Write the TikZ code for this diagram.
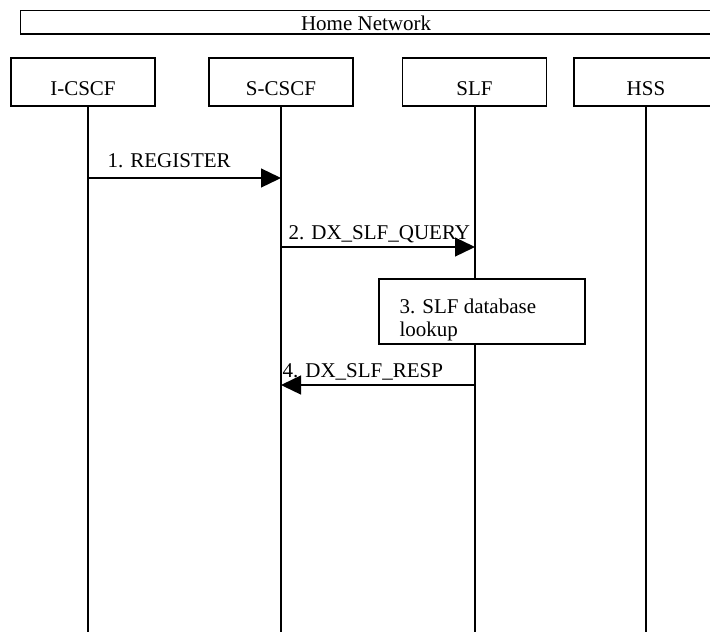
\documentclass[tikz,border=0pt]{standalone}
\usepackage{fontspec}
\setmainfont{Liberation Serif}
\usetikzlibrary{arrows.meta}
\begin{document}
\begin{tikzpicture}[x=1pt,y=-1pt,
  line width=1.3pt,
  every node/.style={font=\fontsize{21}{23}\selectfont, inner sep=0pt},
  ent/.style={draw, fill=white, minimum width=144pt, minimum height=48pt, text height=27pt, text depth=0pt},
  msg/.style={-{Triangle[length=20pt,width=19pt]}},
  lbl/.style={anchor=base west}]
\clip (0,0) rectangle (710,632);
% home network bar
\node[draw, minimum width=690.8pt, minimum height=23.3pt, text height=15.3pt, text depth=0pt] (home) at (366.1,22.35) {Home Network};
% entities
\node[ent] (icscf) at (83,82) {I-CSCF};
\node[ent] (scscf) at (281,82) {S-CSCF};
\node[ent] (slf) at (474.5,82) {SLF};
\node[ent] (hss) at (646,82) {HSS};
% lifeline ends
\coordinate (iB) at (88,640);
\coordinate (sB) at (281,640);
\coordinate (lB) at (475,640);
\coordinate (hB) at (646,640);
\draw (icscf.south -| iB) -- (iB);
\draw (scscf.south -| sB) -- (sB);
\draw (slf.south -| lB) -- (lB);
\draw (hss.south -| hB) -- (hB);
% message end points
\coordinate (i1) at (88,178);
\coordinate (s1) at (281,178);
\coordinate (s2) at (281,247);
\coordinate (l2) at (475,247);
\coordinate (l4) at (475,385);
\coordinate (s4) at (281,385);
\draw[msg] (i1) -- (s1);
\draw[msg] (s2) -- (l2);
\draw[msg] (l4) -- (s4);
\node[lbl] (m1) at (107,167) {1. REGISTER};
\node[lbl] (m2) at (288,239) {2. DX\_SLF\_QUERY};
\node[lbl] (m4) at (282,377) {4. DX\_SLF\_RESP};
% database lookup box
\node[draw, fill=white, minimum width=206pt, minimum height=65pt] (db) at (482,311.5) {};
\node[anchor=west, align=left] (dbt) at (399,319.7) {3. SLF database\\lookup};
\end{tikzpicture}
\end{document}
